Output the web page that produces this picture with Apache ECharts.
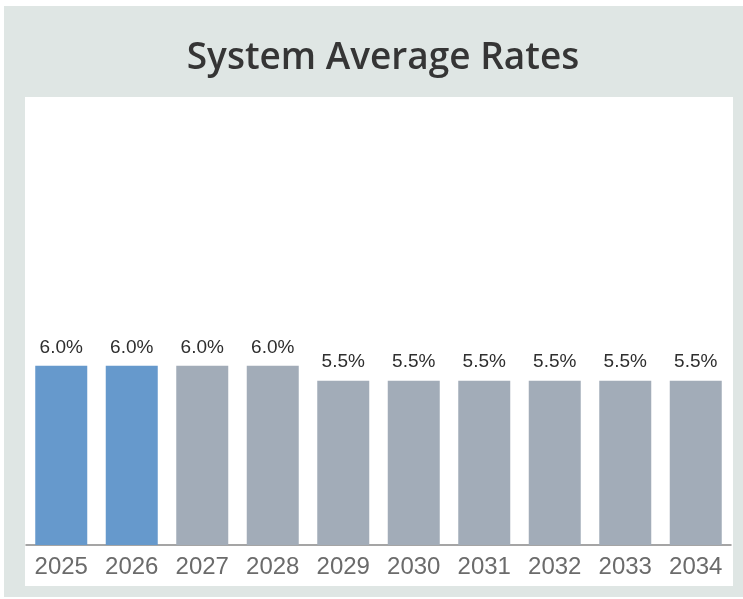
<!DOCTYPE html>
<html>
<head>
	<meta charset="UTF-8" />
	<title>System Average Rates</title>
	<style>
		html, body { margin: 0; padding: 0; background: #ffffff; }
		#chart { width: 743px; height: 599px; }
	</style>
	<script type="text/javascript" src="https://cdn.jsdelivr.net/npm/echarts@6/dist/echarts.min.js"></script>
</head>
<body>
	<div id="chart"></div>
	<script>
		var years = ["2025", "2026", "2027", "2028", "2029", "2030", "2031", "2032", "2033", "2034"];
		var rates = [6.0, 6.0, 6.0, 6.0, 5.5, 5.5, 5.5, 5.5, 5.5, 5.5];
		// first two years are highlighted in blue
		var highlighted = [true, true, false, false, false, false, false, false, false, false];

		var myChart = echarts.init(document.getElementById("chart"));

		var barData = rates.map(function (v, i) {
			return {
				value: v,
				itemStyle: { color: highlighted[i] ? "#6699cc" : "#a2acb8" }
			};
		});

		var option = {
			animation: false,
			title: {
				text: "System Average Rates",
				left: 378,
				top: 35,
				textAlign: "center",
				textStyle: {
					fontFamily: "Open Sans",
					fontWeight: 600,
					fontSize: 37,
					color: "#353535"
				}
			},
			graphic: [
				{
					type: "rect",
					z: -10,
					shape: { x: 4, y: 6, width: 739, height: 591 },
					style: { fill: "#dfe6e4" }
				},
				{
					type: "rect",
					z: -9,
					shape: { x: 25, y: 97, width: 708, height: 489 },
					style: { fill: "#ffffff" }
				}
			],
			grid: {
				left: 26,
				right: 12,
				top: 97,
				bottom: 54
			},
			xAxis: {
				type: "category",
				data: years,
				axisTick: { show: false },
				axisLine: { lineStyle: { color: "#888888", width: 1.5 } },
				axisLabel: {
					margin: 10,
					fontFamily: "Liberation Sans",
					fontSize: 24,
					color: "#6b6b6b"
				}
			},
			yAxis: {
				type: "value",
				min: 0,
				max: 15,
				show: false,
				splitLine: { show: false }
			},
			series: [{
				type: "bar",
				data: barData,
				barWidth: 52,
				label: {
					show: true,
					position: "top",
					distance: 9,
					fontFamily: "Liberation Sans",
					fontSize: 19,
					color: "#2e2e2e",
					formatter: function (p) {
						return p.value.toFixed(1) + "%";
					}
				}
			}]
		};

		myChart.setOption(option);
	</script>
</body>
</html>
